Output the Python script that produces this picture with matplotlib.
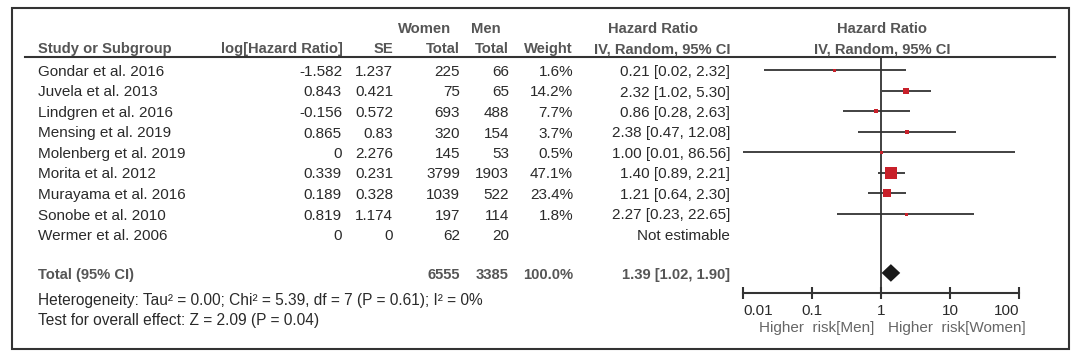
import matplotlib
matplotlib.use("Agg")
import matplotlib.pyplot as plt
from matplotlib.ticker import NullLocator
from matplotlib.patches import Rectangle
from matplotlib.lines import Line2D
import numpy as np

plt.rcParams['font.family'] = ['Liberation Sans', 'DejaVu Sans']

studies = ["Gondar et al. 2016", "Juvela et al. 2013", "Lindgren et al. 2016",
           "Mensing et al. 2019", "Molenberg et al. 2019", "Morita et al. 2012",
           "Murayama et al. 2016", "Sonobe et al. 2010", "Wermer et al. 2006"]
log_hr = [-1.582, 0.843, -0.156, 0.865, 0, 0.339, 0.189, 0.819, 0]
se = [1.237, 0.421, 0.572, 0.83, 2.276, 0.231, 0.328, 1.174, 0]
women_total = [225, 75, 693, 320, 145, 3799, 1039, 197, 62]
men_total = [66, 65, 488, 154, 53, 1903, 522, 114, 20]
weight = [1.6, 14.2, 7.7, 3.7, 0.5, 47.1, 23.4, 1.8, None]
hr = [0.21, 2.32, 0.86, 2.38, 1.00, 1.40, 1.21, 2.27, None]
ci_lo = [0.02, 1.02, 0.28, 0.47, 0.01, 0.89, 0.64, 0.23, None]
ci_hi = [2.32, 5.30, 2.63, 12.08, 86.56, 2.21, 2.30, 22.65, None]

total_women = 6555
total_men = 3385
total_weight = 100.0
total_hr = 1.39
total_lo = 1.02
total_hi = 1.90

heterogeneity = "Heterogeneity: Tau² = 0.00; Chi² = 5.39, df = 7 (P = 0.61); I² = 0%"
overall = "Test for overall effect: Z = 2.09 (P = 0.04)"
ticks = [0.01, 0.1, 1, 10, 100]
tick_labels = ["0.01", "0.1", "1", "10", "100"]

W, H = 1080, 361
fig = plt.figure(figsize=(W / 100, H / 100), dpi=100)
fig.patch.set_facecolor('white')

TXT = '#2a2a2a'
HDR = '#555555'
RED = '#c8202a'
LINE = '#333333'
FS = 11
TOFF = 2  # visual offset of text relative to marker rows

ROW0, ROWH = 70, 20.5
TOTAL_ROW = 9.9


def fx(x):
    return x / W


def fy(y):
    return 1 - y / H


def rowy(i):
    return ROW0 + ROWH * i


def txt(x, y, s, ha='left', bold=False, color=TXT, size=FS):
    fig.text(fx(x), fy(y + TOFF), s, ha=ha, va='center', fontsize=size,
             fontweight='bold' if bold else 'normal', color=color)


# outer frame
fig.add_artist(Rectangle((fx(12), fy(349)), fx(1069 - 12), (349 - 8) / H,
                         fill=False, edgecolor=LINE, lw=1.5, transform=fig.transFigure))
# header underline
fig.add_artist(Line2D([fx(25), fx(1055)], [fy(57), fy(57)], color=LINE, lw=1.5,
                      transform=fig.transFigure))

# headers
HS = 10.6
txt(425, 27, "Women", ha='center', bold=True, color=HDR, size=HS)
txt(486, 27, "Men", ha='center', bold=True, color=HDR, size=HS)
txt(653, 27, "Hazard Ratio", ha='center', bold=True, color=HDR, size=HS)
txt(882, 27, "Hazard Ratio", ha='center', bold=True, color=HDR, size=HS)
txt(38, 47, "Study or Subgroup", bold=True, color=HDR, size=HS)
txt(343, 47, "log[Hazard Ratio]", ha='right', bold=True, color=HDR, size=HS)
txt(393, 47, "SE", ha='right', bold=True, color=HDR, size=HS)
txt(460, 47, "Total", ha='right', bold=True, color=HDR, size=HS)
txt(509, 47, "Total", ha='right', bold=True, color=HDR, size=HS)
txt(573, 47, "Weight", ha='right', bold=True, color=HDR, size=HS)
txt(730, 47, "IV, Random, 95% CI", ha='right', bold=True, color=HDR, size=HS)
txt(882, 47, "IV, Random, 95% CI", ha='center', bold=True, color=HDR, size=HS)

# study rows
for i, name in enumerate(studies):
    y = rowy(i)
    txt(38, y, name)
    txt(342, y, f"{log_hr[i]:g}", ha='right')
    txt(393, y, f"{se[i]:g}", ha='right')
    txt(460, y, f"{women_total[i]}", ha='right')
    txt(509, y, f"{men_total[i]}", ha='right')
    if weight[i] is not None:
        txt(573, y, f"{weight[i]:.1f}%", ha='right')
        txt(730, y, f"{hr[i]:.2f} [{ci_lo[i]:.2f}, {ci_hi[i]:.2f}]", ha='right')
    else:
        txt(730, y, "Not estimable", ha='right')

# total row
yt = rowy(TOTAL_ROW)
txt(38, yt, "Total (95% CI)", bold=True, color=HDR, size=HS)
txt(460, yt, f"{total_women}", ha='right', bold=True, color=HDR, size=HS)
txt(509, yt, f"{total_men}", ha='right', bold=True, color=HDR, size=HS)
txt(573, yt, f"{total_weight:.1f}%", ha='right', bold=True, color=HDR, size=HS)
txt(730, yt, f"{total_hr:.2f} [{total_lo:.2f}, {total_hi:.2f}]", ha='right', bold=True, color=HDR, size=HS)
txt(38, 298, heterogeneity, size=11.2)
txt(38, 318, overall, size=11.2)

# forest axes
L, R, T, B = 743, 1019, 57, 293
ax = fig.add_axes([fx(L), fy(B), (R - L) / W, (B - T) / H])
ax.set_xscale('log')
ax.set_xlim(0.01, 100)
ax.set_ylim((B - ROW0) / ROWH, (T - ROW0) / ROWH)
ax.patch.set_alpha(0)
for s in ['top', 'left', 'right']:
    ax.spines[s].set_visible(False)
ax.spines['bottom'].set_color(LINE)
ax.spines['bottom'].set_linewidth(1.5)
ax.set_yticks([])
ax.set_xticks(ticks, labels=tick_labels)
ax.xaxis.set_minor_locator(NullLocator())
ax.tick_params(axis='x', direction='inout', length=9, width=1.5, color=LINE,
               labelsize=FS, labelcolor=TXT, pad=3.5)
tl = ax.get_xticklabels()
tl[0].set_ha('left')
tl[-1].set_ha('right')

ax.axvline(1, color=LINE, lw=1.3, zorder=1)

for i in range(len(studies)):
    if weight[i] is None:
        continue
    ax.plot([ci_lo[i], ci_hi[i]], [i, i], color=LINE, lw=1.3, zorder=2,
            solid_capstyle='butt')
    side_px = max(1.75 * np.sqrt(weight[i]), 3.0)
    ax.plot([hr[i]], [i], marker='s', markersize=side_px * 0.72, color=RED,
            markeredgewidth=0, zorder=3, linestyle='none')

hh = 0.43
ax.fill([total_lo, total_hr, total_hi, total_hr],
        [TOTAL_ROW, TOTAL_ROW - hh, TOTAL_ROW, TOTAL_ROW + hh],
        color='#1a1a1a', zorder=3, lw=0)

txt(874, 326, "Higher  risk[Men]", ha='right', color='#666666')
txt(888, 326, "Higher  risk[Women]", ha='left', color='#666666')

fig.savefig("out.png", dpi=100, facecolor='white')
